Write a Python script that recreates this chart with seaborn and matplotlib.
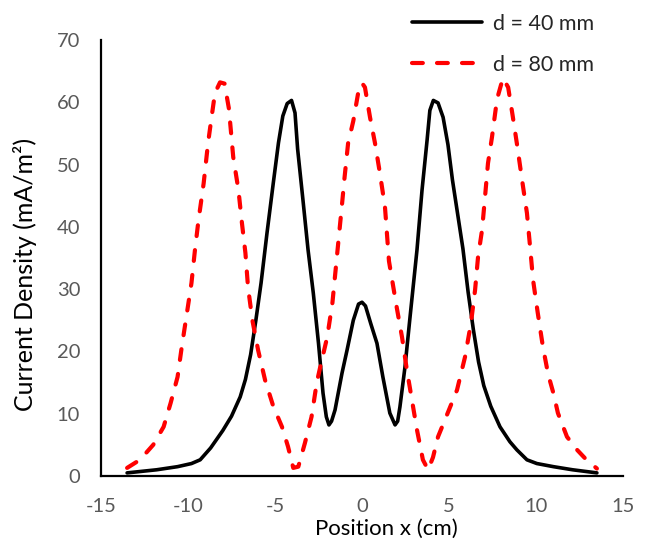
import matplotlib
matplotlib.use("Agg")
import matplotlib.pyplot as plt
import seaborn as sns
import pandas as pd

# d = 40 mm (solid black)
x40 = [-13.5, -11.8, -10.6, -9.8, -9.3, -8.7, -8.0, -7.5, -7.0, -6.7, -6.4, -6.1, -5.8, -5.46, -5.1,
       -4.8, -4.55, -4.3, -4.05, -3.85, -3.7, -3.4, -3.1, -2.8, -2.5, -2.24, -2.05, -1.9, -1.75, -1.55,
       -1.15, -0.86, -0.5, -0.2, 0.0, 0.2, 0.5, 0.86, 1.2, 1.6, 1.9, 2.05, 2.18, 2.47, 2.76, 3.16,
       3.45, 3.74, 3.9, 4.1, 4.37, 4.66, 4.94, 5.2, 5.5, 5.8, 6.1, 6.4, 6.7, 7.0, 7.4, 7.93, 8.5, 8.9,
       9.48, 10.05, 11.0, 12.1, 13.5]
y40 = [0.5, 1.0, 1.5, 2.0, 2.6, 4.5, 7.3, 9.6, 12.7, 15.5, 19.5, 25.0, 31.0, 39.0, 47.0,
       53.5, 57.8, 59.8, 60.3, 58.3, 52.5, 44.5, 36.3, 29.4, 21.3, 13.3, 9.5, 8.2, 8.8, 10.6,
       16.5, 20.2, 25.0, 27.6, 27.9, 27.3, 24.5, 21.3, 15.9, 10.1, 8.2, 8.8, 11.1, 17.5, 25.5, 36.3,
       45.9, 53.9, 58.7, 60.3, 59.9, 57.6, 53.2, 47.5, 42.0, 36.5, 29.5, 23.5, 18.3, 14.5, 11.2, 7.9, 5.5, 4.2,
       2.6, 2.0, 1.5, 1.0, 0.5]

# d = 80 mm (dashed red)
x80 = [-13.5, -12.76, -12.0, -11.4, -11.0, -10.6, -10.36, -10.06, -9.8, -9.6, -9.4, -9.1, -8.85, -8.65,
       -8.45, -8.16, -7.9, -7.65, -7.4, -7.1, -6.9, -6.7, -6.55, -6.3, -5.97, -5.57, -5.1, -4.6,
       -4.25, -3.95, -3.66, -3.28, -2.9, -2.6, -2.4, -2.0, -1.7, -1.45, -1.17, -1.0, -0.8, -0.5, -0.22,
       0.0, 0.17, 0.46, 0.75, 1.03, 1.32, 1.55, 2.0, 2.3, 2.58, 2.87, 3.16, 3.5, 3.8, 4.08, 4.37, 4.88,
       5.46, 5.92, 6.26, 6.5, 6.67, 6.9, 7.07, 7.24, 7.47, 7.76, 8.1, 8.4, 8.65, 8.9, 9.2, 9.48, 9.66,
       9.83, 10.1, 10.4, 10.7, 11.0, 11.26, 11.78, 12.36, 12.9, 13.5]
y80 = [1.3, 2.6, 5.0, 7.9, 11.7, 15.9, 20.7, 26.2, 31.0, 36.3, 41.0, 47.0, 53.4, 57.5,
       61.5, 63.2, 63.0, 59.0, 51.2, 45.9, 40.6, 35.8, 30.3, 25.0, 20.2, 15.4, 11.2, 7.9,
       4.7, 1.3, 1.5, 5.3, 9.5, 15.0, 17.5, 22.3, 27.8, 35.0, 43.0, 48.0, 53.4, 57.0, 61.5,
       63.1, 62.4, 57.6, 53.4, 48.6, 43.2, 34.5, 27.0, 22.3, 17.0, 12.2, 7.4, 2.6, 1.0, 3.0, 6.3, 9.8,
       13.8, 19.1, 24.5, 29.9, 35.2, 39.5, 44.8, 50.2, 54.4, 60.5, 63.9, 62.4, 58.0, 53.4, 47.5, 42.2, 36.8,
       31.5, 26.2, 20.7, 16.3, 13.3, 10.1, 6.3, 4.2, 2.6, 1.2]

labels = ["d = 40 mm", "d = 80 mm"]
xticks = [-15, -10, -5, 0, 5, 10, 15]
yticks = [0, 10, 20, 30, 40, 50, 60, 70]

df40 = pd.DataFrame({"x": x40, "y": y40})
df80 = pd.DataFrame({"x": x80, "y": y80})

sns.set_style("white")
plt.rcParams["font.family"] = ["Lato", "DejaVu Sans"]

fig = plt.figure(figsize=(6.45, 5.39), dpi=100)
ax = fig.add_axes([101 / 645, 1 - 476 / 539, 522 / 645, 436 / 539])

sns.lineplot(data=df40, x="x", y="y", ax=ax, color="black", linewidth=2.6,
             sort=False, estimator=None, label=labels[0])
sns.lineplot(data=df80, x="x", y="y", ax=ax, color="#ff0000", linewidth=3.0,
             sort=False, estimator=None, label=labels[1])
l40, l80 = ax.get_lines()[0], ax.get_lines()[1]
l40.set_solid_capstyle("round")
l40.set_solid_joinstyle("round")
l80.set_dashes((2.6, 3.4))
l80.set_dash_capstyle("round")

ax.set_xlim(-15, 15)
ax.set_ylim(0, 70)
ax.set_xticks(xticks)
ax.set_yticks(yticks)
ax.set_xticklabels([str(t) for t in xticks])
ax.set_yticklabels([str(t) for t in yticks])

for side in ["top", "right"]:
    ax.spines[side].set_visible(False)
for side in ["left", "bottom"]:
    ax.spines[side].set_color("black")
    ax.spines[side].set_linewidth(1.6)
ax.tick_params(axis="both", direction="out", length=5, width=1.6, color="black",
               labelsize=14.5, labelcolor="#595959")
ax.tick_params(axis="y", pad=10)
ax.tick_params(axis="x", pad=11)

ax.set_xlabel("Position x (cm)", fontsize=16, color="black")
ax.set_ylabel("Current Density (mA/m²)", fontsize=18, color="black")
ax.xaxis.label.set_va("center")
ax.yaxis.label.set_va("center")
ax.xaxis.set_label_coords((386 - 101) / 522, (476 - 529) / 436)
ax.yaxis.set_label_coords((25 - 101) / 522, (476 - 274) / 436)

ax.get_legend().remove()
fig.legend(handles=[l40, l80], labels=labels, loc="upper left",
           bbox_to_anchor=(412 / 645, 1 - 13.5 / 539), frameon=False, fontsize=15.5,
           handlelength=3.25, handletextpad=0.5, labelspacing=1.0, borderpad=0,
           borderaxespad=0)

fig.savefig("out.png", dpi=100)
